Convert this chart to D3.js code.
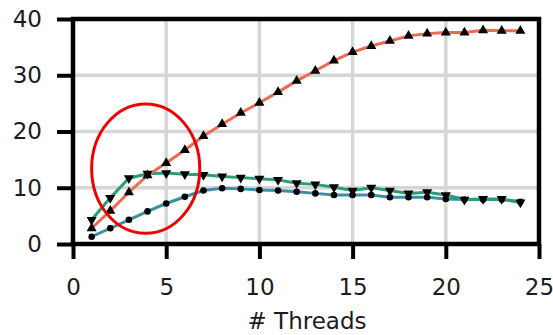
<!DOCTYPE html>
<html>
<head>
<meta charset="utf-8">
<script src="https://cdn.jsdelivr.net/npm/d3@7"></script>
<style>
  body { margin: 0; background: #fff; }
  text { font-family: "DejaVu Sans", sans-serif; fill: #1c1c1c; }
</style>
</head>
<body>
<div id="chart"></div>
<script>
const width = 553;
const height = 335;

// thread counts and the three measured series
const threads = d3.range(1, 25);
const redVals = [2.8, 5.9, 9.2, 12.2, 14.4, 16.7, 19.2, 21.3, 23.3, 25.1, 27.0, 29.0,
                 30.8, 32.6, 34.1, 35.2, 36.1, 37.0, 37.4, 37.6, 37.6, 38.0, 37.9, 37.9];
const greenVals = [4.3, 8.2, 11.7, 12.5, 12.6, 12.4, 12.3, 12.0, 11.8, 11.6, 11.4, 10.8,
                   10.6, 10.1, 9.5, 10.0, 9.5, 9.0, 9.2, 8.7, 7.9, 8.0, 8.0, 7.4];
const blueVals = [1.3, 2.8, 4.3, 5.8, 7.2, 8.4, 9.5, 9.9, 9.8, 9.6, 9.5, 9.3,
                  9.0, 8.7, 8.7, 8.7, 8.3, 8.3, 8.3, 8.0, 7.9, 7.9, 7.9, 7.5];
const xTicks = [0, 5, 10, 15, 20, 25];
const yTicks = [0, 10, 20, 30, 40];

const series = [
    { vals: blueVals, color: "#3a8fa6", symbol: "circle" },
    { vals: greenVals, color: "#2b9c78", symbol: "down" },
    { vals: redVals, color: "#ec6a52", symbol: "up" }
];

const x = d3.scaleLinear().domain([0, 25]).range([73, 539]);
const y = d3.scaleLinear().domain([0, 40]).range([244, 19]);

const svg = d3.select("#chart")
    .append("svg")
    .attr("width", width)
    .attr("height", height);

// grid
svg.append("g").selectAll("line.gx")
    .data(xTicks.slice(1, -1))
    .join("line")
    .attr("x1", d => x(d)).attr("x2", d => x(d))
    .attr("y1", y(40)).attr("y2", y(0))
    .attr("stroke", "#d6d6d6").attr("stroke-width", 3.5);
svg.append("g").selectAll("line.gy")
    .data(yTicks.slice(1, -1))
    .join("line")
    .attr("x1", x(0)).attr("x2", x(25))
    .attr("y1", d => y(d)).attr("y2", d => y(d))
    .attr("stroke", "#d6d6d6").attr("stroke-width", 3.5);

// axes
const xAxis = svg.append("g")
    .attr("transform", `translate(0,${y(0)})`)
    .call(d3.axisBottom(x).tickValues(xTicks).tickSize(15).tickPadding(20));
const yAxis = svg.append("g")
    .attr("transform", `translate(${x(0)},0)`)
    .call(d3.axisLeft(y).tickValues(yTicks).tickSize(16).tickPadding(15));
[xAxis, yAxis].forEach(a => {
    a.select(".domain").remove();
    a.selectAll(".tick line").attr("stroke", "#000").attr("stroke-width", 4);
    a.selectAll(".tick text").style("font-size", "23px").attr("fill", "#1c1c1c");
});

// frame
svg.append("rect")
    .attr("x", x(0)).attr("y", y(40))
    .attr("width", x(25) - x(0)).attr("height", y(0) - y(40))
    .attr("fill", "none").attr("stroke", "#000").attr("stroke-width", 4.5);

svg.append("text")
    .attr("x", 307)
    .attr("y", 329)
    .attr("text-anchor", "middle")
    .style("font-size", "23px")
    .text("# Threads");

// lines + markers
const line = d3.line().x((d, i) => x(threads[i])).y(d => y(d));
const tri = d3.symbol().type(d3.symbolTriangle).size(44);
const dot = d3.symbol().type(d3.symbolCircle).size(34);

series.forEach(s => {
    svg.append("path")
        .datum(s.vals)
        .attr("d", line)
        .attr("fill", "none")
        .attr("stroke", s.color)
        .attr("stroke-width", 3);
});
series.forEach(s => {
    svg.append("g").selectAll("path")
        .data(s.vals)
        .join("path")
        .attr("d", s.symbol === "circle" ? dot : tri)
        .attr("transform", (d, i) => `translate(${x(threads[i])},${y(d)})` + (s.symbol === "down" ? " rotate(180)" : ""))
        .attr("fill", "#000");
});

// red annotation ellipse
svg.append("ellipse")
    .attr("cx", x(3.9)).attr("cy", y(13.4))
    .attr("rx", x(3.9) - x(1.0)).attr("ry", y(1.9) - y(13.4))
    .attr("fill", "none")
    .attr("stroke", "#f00000")
    .attr("stroke-width", 3);
</script>
</body>
</html>
